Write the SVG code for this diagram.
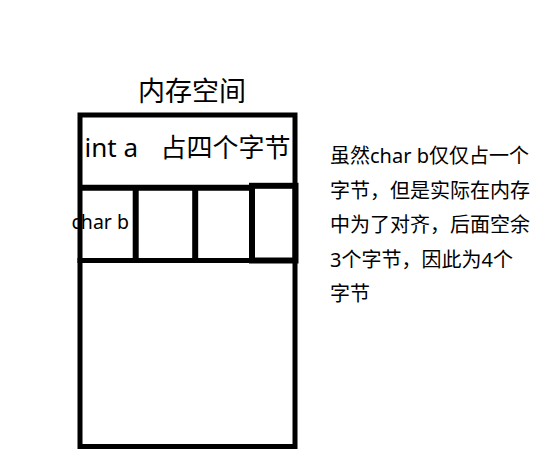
<svg xmlns="http://www.w3.org/2000/svg" width="551" height="471" viewBox="0 0 551 471">
  <style>
    text { font-family: "Noto Sans", "Noto Sans CJK SC", sans-serif; fill: #000; }
    .title { font-size: 27px; }
    .big { font-size: 26px; }
    .cell { font-size: 19.5px; }
    .note { font-size: 20px; }
    .outer { fill: none; stroke: #000; stroke-width: 5; }
    .inner { fill: none; stroke: #000; stroke-width: 6; }
  </style>
  <rect width="551" height="471" fill="#fff"/>
  <g id="title">
    <text class="title" x="138" y="101">内存空间</text>
  </g>
  <g id="memory">
    <rect class="outer" x="80" y="115" width="215" height="331.5"/>
  </g>
  <g id="int-a">
    <line class="inner" x1="80" y1="187.8" x2="252" y2="187.8"/>
    <text class="big" y="156.5"><tspan x="84.5">int a</tspan><tspan x="160.5">占四个字节</tspan></text>
  </g>
  <g id="char-b">
    <text class="cell" x="71.5" y="228.5">char b</text>
    <line class="inner" x1="135.7" y1="187.8" x2="135.7" y2="260.5"/>
    <line class="inner" x1="195.2" y1="187.8" x2="195.2" y2="260.5"/>
  </g>
  <g id="padding">
    <rect class="inner" x="252" y="185.8" width="43.5" height="74.7"/>
    <line class="outer" x1="77.5" y1="260.5" x2="297" y2="260.5"/>
  </g>
  <g id="note">
    <text class="note" x="330">
      <tspan x="330" y="163.3">虽然char b仅仅占一个</tspan>
      <tspan x="330" y="197.8">字节，但是实际在内存</tspan>
      <tspan x="330" y="232.3">中为了对齐，后面空余</tspan>
      <tspan x="330" y="266.8">3个字节，因此为4个</tspan>
      <tspan x="330" y="301.3">字节</tspan>
    </text>
  </g>
</svg>
